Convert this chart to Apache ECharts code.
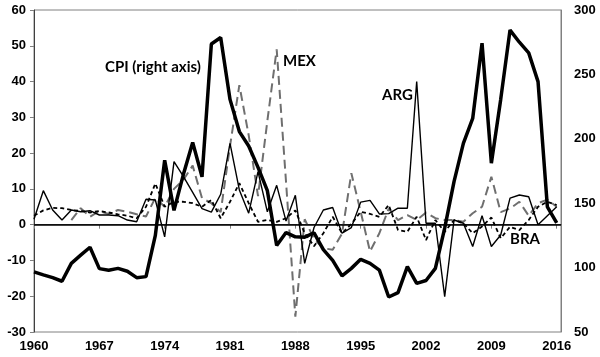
<!DOCTYPE html>
<html>
<head>
<meta charset="utf-8">
<script src="https://cdn.jsdelivr.net/npm/echarts@6/dist/echarts.min.js"></script>
<style>html,body{margin:0;padding:0;background:#fff;}#c{width:600px;height:357px;}</style>
</head>
<body>
<div id="c"></div>
<script>
const years = [];
for (let y = 1960; y <= 2016; y++) years.push(y);
const xTicks = [1960, 1967, 1974, 1981, 1988, 1995, 2002, 2009, 2016];
const leftTicks = [-30, -20, -10, 0, 10, 20, 30, 40, 50, 60];
const rightTicks = [50, 100, 150, 200, 250, 300];

const ARG = [1.5,9.5,4.1,1.3,4.1,3.6,3.9,2.7,2.7,2.5,1.3,0.8,7.1,6.9,-3.4,17.6,13.5,9,4.5,3.5,
  8.5,22.7,9.7,3.2,14.8,3.6,11,1,8.2,-10.8,-0.8,4.1,4.8,-2.4,-0.8,6.3,6.8,3,3.1,4.6,
  4.6,40,0.4,0.4,-20.1,1.3,0.4,-6.1,2.5,-6.1,-2.9,7.4,8.3,7.8,0,2.5,5];
const BRA = [2.5,4.0,4.7,4.6,4.1,3.8,3.4,3.8,3.4,2.9,2.5,1.8,5,11.5,5,6.4,6.4,6,5,6.9,
  1.8,6.4,11.6,6,0.8,1.3,0.8,1.8,4,-2.4,-6,-2.4,2.2,-2.4,0.2,3.6,3,2.2,5.5,-1.5,
  -2,2.2,-4.3,1.3,-2,1.3,0.4,-2.4,-0.5,2,-3.8,-0.6,-1.5,1.3,5,6.4,5.5];
const MEX = [null,null,null,null,1.3,4.6,2.2,3.8,3.0,4.1,3.6,2.9,2.3,7.5,5,10,12.5,16.5,7.4,6,
  3.5,22,39,25,8,29,49,12,-25.7,1.5,-4,-6.6,-7,-2.5,14.4,3.6,-7.5,-2.4,4.5,1.3,
  2.7,1.3,3.4,1.8,1.3,1.3,0.8,3.2,5,13.4,3.5,4.5,6.4,2.5,6,7,5];
const CPI = [96.7,94.4,92.2,89.4,103.3,109.7,115.8,99.2,98.0,99.4,97.2,92.2,93.0,125,183.3,144.4,172.2,197.2,170.5,273.6,
  278.6,230.6,205.6,194.4,177.8,159.7,117.2,127.2,123.9,123.6,126.9,113.9,105.6,93.6,99.4,106.4,103.3,98.0,77.2,80.6,
  100.8,87.8,90,99.4,130.6,166.7,196.4,215.8,274.2,181.1,230.6,284.4,275,266.7,244.4,147.2,134.7];

const pair = arr => years.map((y, i) => [y, arr[i]]);
const labelFont = {fontFamily: 'Liberation Sans, Arial, sans-serif', fontWeight: 'bold', fontSize: 13, color: '#000'};
const annFont = {fontFamily: 'Lato, sans-serif', fontWeight: 'bold', fontSize: 15, fill: '#000'};

const chart = echarts.init(document.getElementById('c'), null, {renderer: 'canvas'});
chart.setOption({
  animation: false,
  backgroundColor: '#fff',
  grid: {left: 34, right: 39, top: 10, bottom: 25, show: true, borderColor: '#808080', borderWidth: 1, backgroundColor: 'transparent'},
  xAxis: {
    type: 'value', min: xTicks[0], max: 2016.46, interval: 7,
    splitLine: {show: false},
    axisLine: {lineStyle: {color: '#404040', width: 1}},
    axisTick: {show: true, length: 4, lineStyle: {color: '#808080'}},
    axisLabel: Object.assign({margin: 8, formatter: v => xTicks.includes(v) ? String(v) : ''}, labelFont)
  },
  yAxis: [{
    type: 'value', min: leftTicks[0], max: leftTicks[leftTicks.length-1], interval: 10,
    splitLine: {show: false},
    axisLine: {show: true, lineStyle: {color: '#404040', width: 1}},
    axisTick: {show: true, length: 4, lineStyle: {color: '#808080'}},
    axisLabel: Object.assign({margin: 8}, labelFont)
  }, {
    type: 'value', min: rightTicks[0], max: rightTicks[rightTicks.length-1], interval: 50, position: 'right',
    splitLine: {show: false},
    axisLine: {show: true, lineStyle: {color: '#808080', width: 1}},
    axisTick: {show: false},
    axisLabel: Object.assign({margin: 13}, labelFont)
  }],
  series: [{
    name: 'MEX', type: 'line', data: pair(MEX), yAxisIndex: 0, showSymbol: false, connectNulls: false,
    lineStyle: {color: '#6f6f6f', width: 2, type: [9, 5]}, z: 2
  }, {
    name: 'BRA', type: 'line', data: pair(BRA), yAxisIndex: 0, showSymbol: false,
    lineStyle: {color: '#000', width: 1.8, type: [4, 3]}, z: 3
  }, {
    name: 'ARG', type: 'line', data: pair(ARG), yAxisIndex: 0, showSymbol: false,
    lineStyle: {color: '#000', width: 1.4}, z: 4,
    markLine: {silent: true, symbol: 'none', label: {show: false}, lineStyle: {color: '#000', width: 1.5, type: 'solid'}, data: [{yAxis: 0}]}
  }, {
    name: 'CPI', type: 'line', data: pair(CPI), yAxisIndex: 1, showSymbol: false,
    lineStyle: {color: '#000', width: 3.5}, z: 5
  }],
  graphic: [
    {type: 'text', left: 105, top: 60, style: Object.assign({text: 'CPI (right axis)'}, annFont)},
    {type: 'text', left: 283, top: 54, style: Object.assign({text: 'MEX'}, annFont)},
    {type: 'text', left: 382, top: 88, style: Object.assign({text: 'ARG'}, annFont)},
    {type: 'text', left: 510, top: 232, style: Object.assign({text: 'BRA'}, annFont)}
  ]
});
</script>
</body>
</html>
